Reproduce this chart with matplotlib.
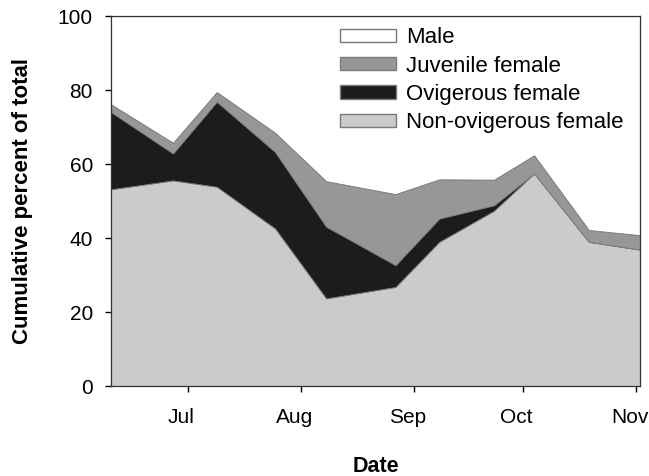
import numpy as np
import matplotlib
matplotlib.use('Agg')
import matplotlib.pyplot as plt
import matplotlib.dates as mdates
import matplotlib.patches as mpatches
import matplotlib.transforms as mtransforms

plt.rcParams['font.family'] = ['Liberation Sans', 'DejaVu Sans']

# sampling dates and percent of total for each group
dates = np.array(['2008-06-10', '2008-06-27', '2008-07-09', '2008-07-25', '2008-08-08',
                  '2008-08-27', '2008-09-08', '2008-09-23', '2008-10-04', '2008-10-19',
                  '2008-11-02'], dtype='datetime64[D]')
non_ovigerous = [53.2, 55.6, 53.9, 42.6, 23.7, 26.8, 39.0, 47.4, 57.5, 39.0, 36.9]
ovigerous = [20.9, 7.3, 23.0, 20.7, 19.4, 5.9, 6.3, 1.5, 0.0, 0.0, 0.0]
juvenile = [2.1, 2.9, 2.6, 5.2, 12.3, 19.2, 10.6, 6.9, 4.9, 3.2, 3.9]
male = [100 - a - b - c for a, b, c in zip(non_ovigerous, ovigerous, juvenile)]

labels = ['Non-ovigerous female', 'Ovigerous female', 'Juvenile female', 'Male']
colors = ['#cbcbcb', '#1c1c1c', '#979797', '#ffffff']

fig = plt.figure(figsize=(6.49, 4.76), dpi=100)
ax = fig.add_axes([0.171, 0.189, 0.815, 0.777])

x = dates.astype('datetime64[ms]').astype(object)
ax.stackplot(x, non_ovigerous, ovigerous, juvenile, male,
             colors=colors, edgecolor='#7a7a7a', linewidth=0.6)

ax.set_xlim(np.datetime64('2008-06-10'), np.datetime64('2008-11-02'))
ax.set_ylim(0, 100)
ax.set_yticks([0, 20, 40, 60, 80, 100])
ax.xaxis.set_major_locator(mdates.MonthLocator(bymonth=[7, 8, 9, 10, 11]))
ax.xaxis.set_major_formatter(mdates.DateFormatter('%b'))
ax.tick_params(direction='out', length=4, width=1, labelsize=15, pad=9)
ax.tick_params(axis='x', pad=12)
for s in ax.spines.values():
    s.set_linewidth(0.9)
    s.set_color('#333333')

# month labels sit a little left of their ticks
shift = mtransforms.ScaledTranslation(-0.065, 0, fig.dpi_scale_trans)
for lab in ax.get_xticklabels():
    lab.set_transform(lab.get_transform() + shift)

ax.set_ylabel('Cumulative percent of total', fontsize=16, fontweight='bold', labelpad=18)
ax.set_xlabel('Date', fontsize=15.5, fontweight='bold', labelpad=21)

handles = [mpatches.Patch(facecolor=c, edgecolor='#7a7a7a', label=l)
           for c, l in zip(colors[::-1], labels[::-1])]
ax.legend(handles=handles, loc='upper right', frameon=False, fontsize=16,
          handlelength=2.5, handleheight=0.55, handletextpad=0.45, labelspacing=0.33,
          bbox_to_anchor=(0.99, 1.0), borderaxespad=0.1)

fig.savefig('out.png', dpi=100)
